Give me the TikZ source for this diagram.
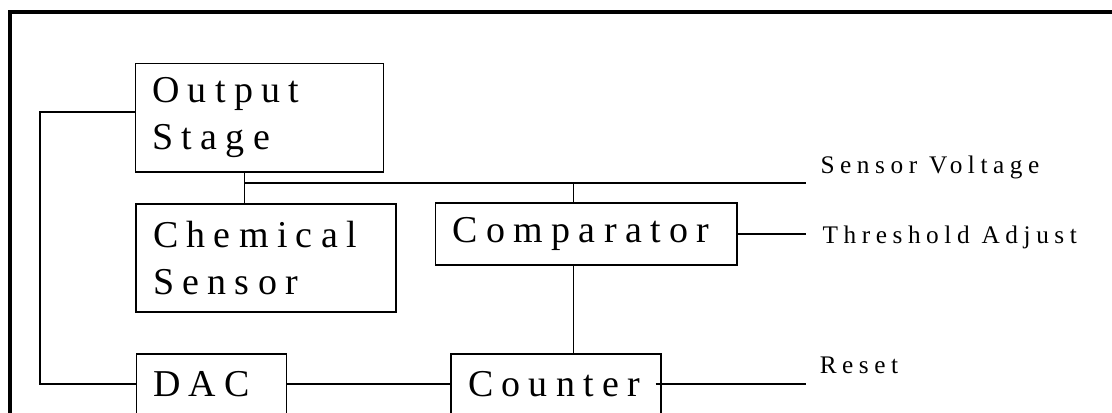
\documentclass[tikz,border=0pt]{standalone}
\usepackage{fontspec}
\setmainfont{Liberation Serif}
\newfontfamily\spacedfont[LetterSpace=22]{Liberation Serif}
\usetikzlibrary{positioning}

\begin{document}
\begin{tikzpicture}[line width=0.8pt,
	block/.style={draw, align=left, inner xsep=0.425cm, inner ysep=0pt, font=\spacedfont\fontsize{27}{34}\selectfont},
	sig/.style={anchor=base west, inner sep=0pt, font=\spacedfont\fontsize{18}{20}\selectfont}]
	\useasboundingbox (0, 0) rectangle (27.8, -10.3);
	\clip (0, 0) rectangle (27.8, -10.3);
	% Frame
	\draw[line width=0.1cm] (0.25, -11) -- (0.25, -0.3) -- (29, -0.3);
	
	% Blocks
	\node[block, text width=5.35cm, minimum height=2.72cm] (outstage) at (6.48, -2.94) {Output\\Stage};
	\node[block, text width=5.65cm, minimum height=2.7cm] (chem) at (6.65, -6.45) {Chemical\\Sensor};
	\node[block, text width=6.68cm, minimum height=1.55cm] (comp) at (14.66, -5.85) {Comparator};
	\node[block, text width=2.9cm, minimum height=1.5cm] (dac) at (5.28, -9.6) {DAC};
	\node[block, text width=4.4cm, minimum height=1.5cm] (counter) at (13.9, -9.6) {Counter};
	
	% Signal names
	\node[sig] (sensv) at (20.5, -4.33) {Sensor Voltage};
	\node[sig] (thres) at (20.55, -6.08) {Threshold Adjust};
	\node[sig] (reset) at (20.48, -9.33) {Reset};
	
	% Wire ends
	\coordinate (busl) at (6.12, -4.575);
	\coordinate (tap) at (14.33, -4.575);
	\coordinate (busr) at (20.15, -4.575);
	\coordinate (thresend) at (20.15, -5.85);
	\coordinate (resetend) at (20.15, -9.6);
	\coordinate (fb) at (1.0, -9.6);
	
	% Wires
	\draw (busl) -- (busr);
	\draw (busl |- outstage.south) -- (busl |- chem.north);
	\draw (tap) -- (tap |- comp.north);
	\draw (tap |- comp.south) -- (tap |- counter.north);
	\draw (comp.east) -- (thresend);
	\draw (dac.east) -- (counter.west);
	\draw ([xshift=-0.15cm]counter.east) -- (resetend);
	\draw ([yshift=0.14cm]outstage.west) -| (fb) -- (dac.west);
	
\end{tikzpicture}
\end{document}
